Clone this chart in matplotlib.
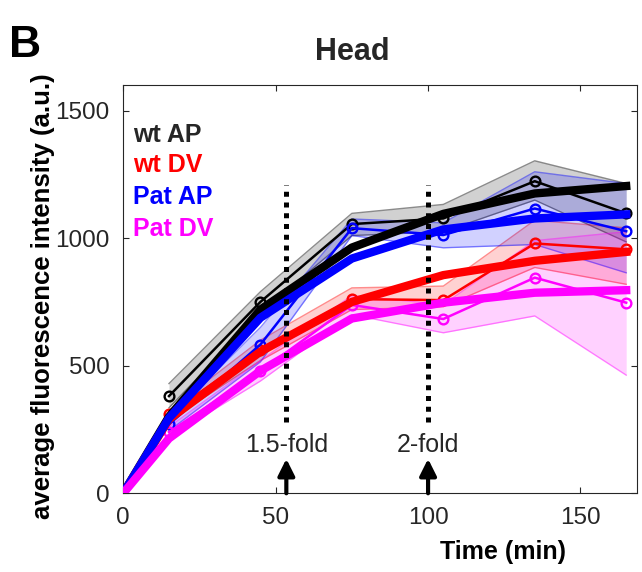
import numpy as np
import matplotlib
matplotlib.use("Agg")
import matplotlib.pyplot as plt

plt.rcParams['font.family'] = ['Liberation Sans', 'DejaVu Sans']

# time points (min)
t_fit = [0, 15, 45, 75, 105, 135, 165]
t_obs = [15, 45, 75, 105, 135, 165]

# measured means
wt_ap = [381, 750, 1055, 1077, 1223, 1097]
wt_dv = [311, 560, 761, 757, 979, 956]
pat_ap = [270, 583, 1039, 1012, 1116, 1027]
pat_dv = [240, 479, 738, 683, 845, 747]

# error band limits
wt_ap_lo = [335, 710, 1010, 1025, 1149, 985]
wt_ap_hi = [430, 790, 1097, 1132, 1303, 1214]
wt_dv_lo = [285, 520, 720, 731, 885, 819]
wt_dv_hi = [325, 600, 805, 812, 1070, 1040]
pat_ap_lo = [245, 515, 1010, 962, 975, 864]
pat_ap_hi = [295, 650, 1075, 1060, 1260, 1214]
pat_dv_lo = [220, 440, 700, 629, 695, 463]
pat_dv_hi = [260, 520, 775, 740, 990, 1025]

# fitted curves
wt_ap_fit = [0, 300, 720, 963, 1095, 1175, 1204]
wt_dv_fit = [0, 290, 555, 750, 855, 911, 946]
pat_ap_fit = [0, 295, 688, 920, 1034, 1077, 1093]
pat_dv_fit = [0, 215, 480, 685, 747, 786, 796]

labels = ["wt AP", "wt DV", "Pat AP", "Pat DV"]
colors = ["#000000", "#ff0000", "#0000ff", "#ff00ff"]
means = [wt_ap, wt_dv, pat_ap, pat_dv]
lows = [wt_ap_lo, wt_dv_lo, pat_ap_lo, pat_dv_lo]
highs = [wt_ap_hi, wt_dv_hi, pat_ap_hi, pat_dv_hi]
fits = [wt_ap_fit, wt_dv_fit, pat_ap_fit, pat_dv_fit]

# fold-change markers
fold_x = [53.5, 100]
fold_text = ["1.5-fold", "2-fold"]

dark = "#262626"

fig = plt.figure(figsize=(6.42, 5.72), dpi=100)
ax = fig.add_axes([0.192, 0.1376, 0.800, 0.7138])

# bands
for lo, hi, c in zip(lows, highs, colors):
    ax.fill_between(t_obs, lo, hi, color=c, alpha=0.18, lw=0, zorder=1)
    ax.plot(t_obs, lo, color=c, alpha=0.45, lw=1, zorder=1)
    ax.plot(t_obs, hi, color=c, alpha=0.45, lw=1, zorder=1)

# measured lines
for m, c in zip(means, colors):
    ax.plot(t_obs, m, color=c, lw=1.8, marker="o", ms=7, mfc="none",
            mew=1.7, zorder=2)

# fits
for f, c in zip(fits, colors):
    ax.plot(t_fit, f, color=c, lw=6, zorder=3)

# fold change lines, arrows and text
for fx, ft in zip(fold_x, fold_text):
    ax.plot([fx, fx], [278, 1208], color="k", lw=3.6, ls=(0, (1, 1.15)),
            dash_capstyle="butt", zorder=4)
    ax.annotate("", xy=(fx, 135), xytext=(fx, 0),
                arrowprops=dict(arrowstyle="-|>,head_length=0.5,head_width=0.25",
                                lw=3, color="k", mutation_scale=20,
                                shrinkA=0, shrinkB=0), zorder=4)
    ax.text(fx, 188, ft, ha="center", va="center", fontsize=18, color=dark)

# legend as coloured text
leg_y = [0.8776, 0.804, 0.7256, 0.647]
for lab, c, yy in zip(labels, colors, leg_y):
    cc = dark if c == "#000000" else c
    ax.text(0.019, yy, lab, transform=ax.transAxes, color=cc, fontsize=18,
            fontweight="bold", ha="left", va="center")

ax.set_xlim(0, 168.5)
ax.set_ylim(0, 1600)
ax.set_xticks([0, 50, 100, 150])
ax.set_yticks([0, 500, 1000, 1500])
ax.tick_params(direction="in", length=4.3, width=0.8, top=True, right=True,
               labelsize=17.5, colors=dark, pad=10)
for sp in ax.spines.values():
    sp.set_color(dark)
    sp.set_linewidth(0.8)

ax.text(0.445, 1.045, "Head", transform=ax.transAxes, ha="center",
        va="bottom", fontsize=22, fontweight="bold", color=dark)
ax.text(0.739, -0.145, "Time (min)", transform=ax.transAxes, ha="center",
        va="center", fontsize=18, fontweight="bold", color="k")
fig.text(43 / 642, 1 - 296 / 572, "average fluorescence intensity (a.u.)",
         rotation=90, ha="center", va="center", fontsize=18.5,
         fontweight="bold", color="k")
fig.text(9 / 642, 1 - 25 / 572, "B", ha="left", va="top", fontsize=32,
         fontweight="bold", color="k")

fig.savefig("out.png", dpi=100)
